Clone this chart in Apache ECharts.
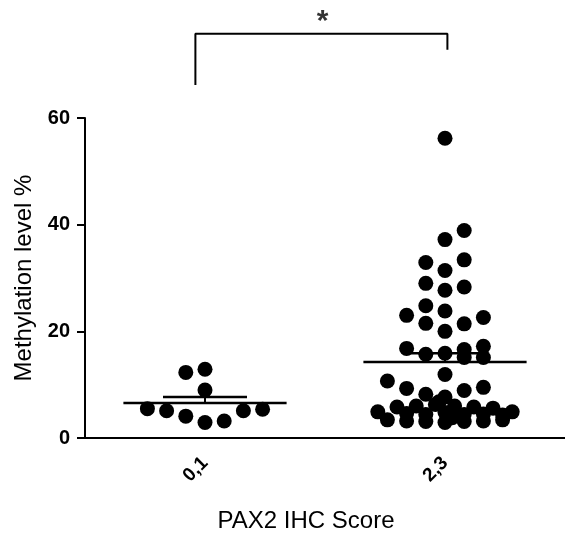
<!DOCTYPE html>
<html>
<head>
<meta charset="utf-8">
<script src="https://cdn.jsdelivr.net/npm/echarts@6/dist/echarts.min.js"></script>
<style>
  html, body { margin: 0; padding: 0; background: #fff; }
  #chart { width: 565px; height: 535px; }
</style>
</head>
<body>
<div id="chart"></div>
<script>
// categories on the x axis
const categories = ['0,1', '2,3'];

// group "0,1": values and horizontal swarm offsets (in category units)
const group1Values = [12.3, 12.9, 9.0, 5.5, 5.1, 4.1, 2.9, 3.2, 5.1, 5.4];
const group1Offsets = [-0.08, 0, 0, -0.24, -0.16, -0.08, 0, 0.08, 0.16, 0.24];

// group "2,3"
const group2Values = [
  56.2, 38.9, 37.2, 32.9, 33.4, 31.4, 29.0, 28.3, 27.7, 24.8,
  23.8, 23.0, 22.6, 21.5, 21.4, 20.0, 16.8, 15.7, 15.9, 16.6,
  15.1, 17.2, 15.1, 11.9, 10.7, 9.3, 9.5, 8.2, 8.9, 7.7,
  4.9, 4.9, 3.4, 3.2, 3.1, 2.9, 3.1, 3.2, 3.4,
  5.8, 6.0, 6.3, 6.0, 5.8, 5.6,
  4.6, 4.4, 4.8, 4.4, 4.5,
  6.8, 3.8, 4.3
];
const group2Offsets = [
  0, 0.08, 0, -0.08, 0.08, 0, -0.08, 0.08, 0, -0.08,
  0, -0.16, 0.16, -0.08, 0.08, 0, -0.16, -0.08, 0, 0.08,
  0.08, 0.16, 0.16, 0, -0.24, -0.16, 0.16, -0.08, 0.08, 0,
  -0.28, 0.28, -0.24, -0.16, -0.08, 0, 0.08, 0.16, 0.24,
  -0.2, -0.12, -0.04, 0.04, 0.12, 0.2,
  -0.16, -0.08, 0, 0.08, 0.16,
  -0.025, 0.03, 0.24
];

// y axis ticks
const yMin = 0;
const yMax = 60;
const yInterval = 20;

// significance bracket (x in category units, y in data units)
const bracketX = [-0.04, -0.04, 1.01, 1.01];
const bracketY = [66.2, 75.8, 75.8, 72.8];
const starPos = [0.49, 78];

const groups = [
  { values: group1Values, offsets: group1Offsets },
  { values: group2Values, offsets: group2Offsets }
];

function meanOf(a) {
  return a.reduce((s, v) => s + v, 0) / a.length;
}
function semOf(a) {
  const m = meanOf(a);
  const v = a.reduce((s, x) => s + (x - m) * (x - m), 0) / (a.length - 1);
  return Math.sqrt(v) / Math.sqrt(a.length);
}

const font = 'Liberation Sans, Arial, sans-serif';
const blackLine = { color: '#000', width: 2.5 };

const series = [];
groups.forEach((g, gi) => {
  series.push({
    type: 'scatter',
    xAxisIndex: 1,
    symbolSize: 15,
    itemStyle: { color: '#000', opacity: 1 },
    data: g.values.map((v, i) => [gi + g.offsets[i], v])
  });
  const m = meanOf(g.values);
  const s = semOf(g.values);
  // mean line
  series.push({
    type: 'line', xAxisIndex: 1, symbol: 'none', z: 5, lineStyle: blackLine,
    data: [[gi - 0.34, m], [gi + 0.34, m]]
  });
  // upper error bar
  series.push({
    type: 'line', xAxisIndex: 1, symbol: 'none', z: 5, lineStyle: { color: '#000', width: 2 },
    data: [[gi, m], [gi, m + s]]
  });
  series.push({
    type: 'line', xAxisIndex: 1, symbol: 'none', z: 5, lineStyle: blackLine,
    data: [[gi - 0.175, m + s], [gi + 0.175, m + s]]
  });
});

// bracket and star above the plot
series.push({
  type: 'line', xAxisIndex: 1, symbol: 'none', clip: false, silent: true,
  lineStyle: { color: '#000', width: 2 },
  data: bracketX.map((x, i) => [x, bracketY[i]])
});
series.push({
  type: 'scatter', xAxisIndex: 1, clip: false, silent: true,
  symbolSize: 1, itemStyle: { color: 'rgba(0,0,0,0)' },
  label: {
    show: true, position: 'inside', formatter: '*',
    color: '#000', fontSize: 30, fontWeight: 'bold', fontFamily: font
  },
  data: [starPos]
});

const chart = echarts.init(document.getElementById('chart'));
chart.setOption({
  animation: false,
  backgroundColor: '#fff',
  grid: { left: 85, right: 0, top: 118, bottom: 97, outerBoundsMode: 'none' },
  xAxis: [
    {
      type: 'category',
      data: categories,
      boundaryGap: true,
      name: 'PAX2 IHC Score',
      nameLocation: 'middle',
      nameGap: 71,
      nameTextStyle: { color: '#000', fontSize: 24, fontFamily: font, padding: [0, 38, 0, 0] },
      axisLine: { lineStyle: { color: '#000', width: 2 } },
      axisTick: { alignWithLabel: true, length: 10, lineStyle: { color: '#000', width: 2 } },
      axisLabel: { rotate: 45, margin: 22, color: '#000', fontSize: 19, fontWeight: 'bold', fontFamily: font },
      splitLine: { show: false }
    },
    { type: 'value', min: -0.5, max: 1.5, show: false }
  ],
  yAxis: {
    type: 'value',
    min: yMin,
    max: yMax,
    interval: yInterval,
    name: 'Methylation level %',
    nameLocation: 'middle',
    nameGap: 47,
    nameTextStyle: { color: '#000', fontSize: 24, fontFamily: font },
    axisLine: { show: true, onZero: false, lineStyle: { color: '#000', width: 2 } },
    axisTick: { show: true, length: 8, lineStyle: { color: '#000', width: 2 } },
    axisLabel: { margin: 15, color: '#000', fontSize: 20, fontWeight: 'bold', fontFamily: font },
    splitLine: { show: false }
  },
  series: series
});
</script>
</body>
</html>
